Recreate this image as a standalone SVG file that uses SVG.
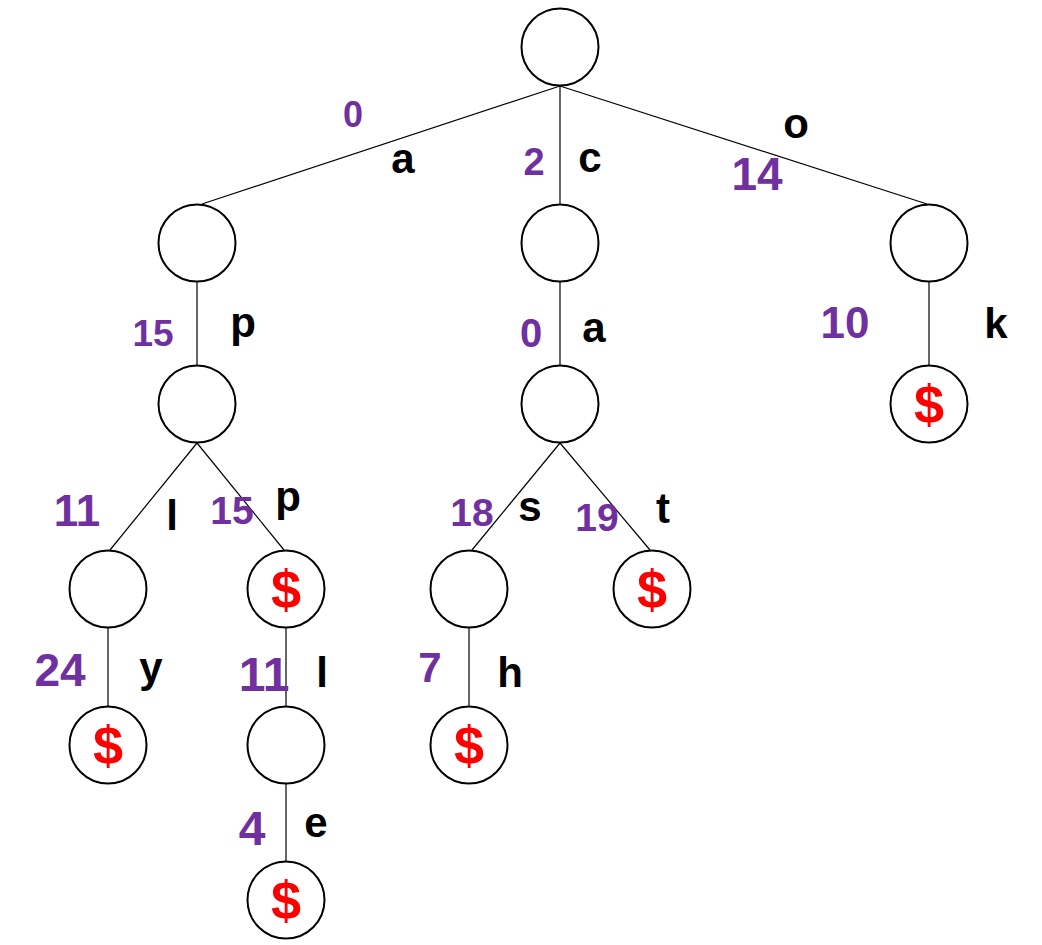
<svg xmlns="http://www.w3.org/2000/svg" width="1042" height="945" viewBox="0 0 1042 945">
<style>
.n{fill:#fff;stroke:#000;stroke-width:2}
.e{stroke:#000;stroke-width:1.2;fill:none}
.d{fill:#7030A0;font-family:"Liberation Sans",Arial,sans-serif;font-weight:bold;text-anchor:middle}
.l{fill:#000;font-family:"Liberation Sans",Arial,sans-serif;font-weight:bold;font-size:42px;text-anchor:middle}
.s{fill:#FF0000;font-family:"Liberation Sans",Arial,sans-serif;font-weight:bold;font-size:54px;text-anchor:middle}
</style>
<rect width="1042" height="945" fill="#fff"/>
<g id="connectors">
<line class="e" x1="560" y1="86" x2="202" y2="204"/>
<line class="e" x1="560" y1="86" x2="560" y2="204"/>
<line class="e" x1="560" y1="86" x2="927" y2="204"/>
<line class="e" x1="197" y1="282" x2="197" y2="365"/>
<line class="e" x1="560" y1="282" x2="560" y2="365"/>
<line class="e" x1="929" y1="282" x2="929" y2="365"/>
<line class="e" x1="197" y1="443" x2="110" y2="550"/>
<line class="e" x1="197" y1="443" x2="284" y2="550"/>
<line class="e" x1="560" y1="443" x2="472" y2="550"/>
<line class="e" x1="560" y1="443" x2="650" y2="550"/>
<line class="e" x1="108" y1="628" x2="108" y2="706"/>
<line class="e" x1="286" y1="628" x2="286" y2="706"/>
<line class="e" x1="469" y1="628" x2="469" y2="706"/>
<line class="e" x1="286" y1="784" x2="286" y2="861"/>
</g>
<g id="edge-labels">
<text class="d" x="353" y="127" font-size="36">0</text>
<text class="l" x="403" y="173">a</text>
<text class="d" x="534" y="175" font-size="38">2</text>
<text class="l" x="590" y="172">c</text>
<text class="d" x="757" y="190" font-size="46">14</text>
<text class="l" x="796" y="138">o</text>
<text class="d" x="153" y="346" font-size="37">15</text>
<text class="l" x="243" y="337">p</text>
<text class="d" x="531" y="347" font-size="40">0</text>
<text class="l" x="594" y="342">a</text>
<text class="d" x="845" y="338" font-size="44">10</text>
<text class="l" x="996" y="338">k</text>
<text class="d" x="77" y="526" font-size="44">11</text>
<text class="l" x="172" y="530">l</text>
<text class="d" x="232" y="524" font-size="39">15</text>
<text class="l" x="288" y="511">p</text>
<text class="d" x="472" y="526" font-size="39">18</text>
<text class="l" x="530" y="521">s</text>
<text class="d" x="597" y="531" font-size="39">19</text>
<text class="l" x="663" y="523">t</text>
<text class="d" x="60" y="686" font-size="46">24</text>
<text class="l" x="151" y="682">y</text>
<text class="d" x="264" y="691" font-size="48">11</text>
<text class="l" x="322" y="687">l</text>
<text class="d" x="430" y="682" font-size="42">7</text>
<text class="l" x="510" y="687">h</text>
<text class="d" x="252" y="845" font-size="48">4</text>
<text class="l" x="316" y="837">e</text>
</g>
<g id="root"><circle class="n" cx="560" cy="47" r="38.5"/></g>
<g id="n-a"><circle class="n" cx="197" cy="243" r="38.5"/></g>
<g id="n-c"><circle class="n" cx="560" cy="243" r="38.5"/></g>
<g id="n-o"><circle class="n" cx="929" cy="243" r="38.5"/></g>
<g id="n-ap"><circle class="n" cx="197" cy="404" r="38.5"/></g>
<g id="n-ca"><circle class="n" cx="560" cy="404" r="38.5"/></g>
<g id="n-ok"><circle class="n" cx="929" cy="404" r="38.5"/><text class="s" x="929" y="423">$</text></g>
<g id="n-apl"><circle class="n" cx="108" cy="589" r="38.5"/></g>
<g id="n-app"><circle class="n" cx="286" cy="589" r="38.5"/><text class="s" x="286" y="608">$</text></g>
<g id="n-cas"><circle class="n" cx="469" cy="589" r="38.5"/></g>
<g id="n-cat"><circle class="n" cx="652" cy="589" r="38.5"/><text class="s" x="652" y="608">$</text></g>
<g id="n-aply"><circle class="n" cx="108" cy="745" r="38.5"/><text class="s" x="108" y="764">$</text></g>
<g id="n-appl"><circle class="n" cx="286" cy="745" r="38.5"/></g>
<g id="n-cash"><circle class="n" cx="469" cy="745" r="38.5"/><text class="s" x="469" y="764">$</text></g>
<g id="n-apple"><circle class="n" cx="286" cy="900" r="38.5"/><text class="s" x="286" y="919">$</text></g>
</svg>
